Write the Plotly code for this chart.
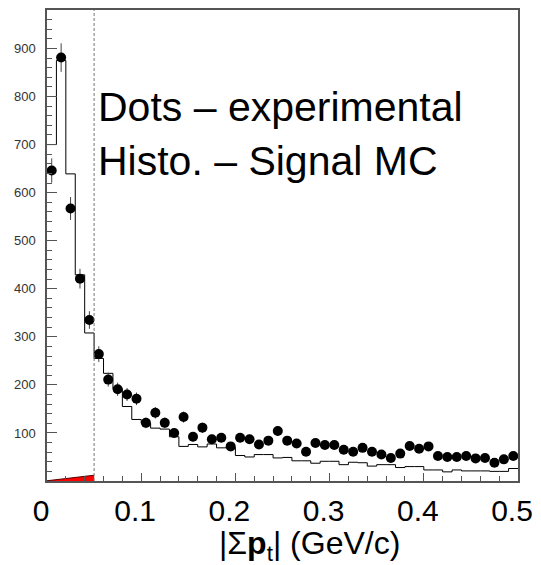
import numpy as np
import plotly.graph_objects as go

# ---- data ----
bin_width = 0.01
n_bins = 50
data_counts = [646, 881, 567, 421, 335, 264, 211, 191, 180, 171,
               121, 142, 121, 100, 133, 92, 111, 87, 90, 72,
               90, 87, 76, 84, 104, 84, 78, 61, 79, 75,
               75, 65, 61, 69, 61, 55, 48, 57, 73, 67,
               72, 52, 50, 50, 52, 47, 48, 38, 45, 52]
mc_counts = [700, 875, 639, 429, 308, 255, 224, 192, 155, 128,
             120, 110, 108, 92, 72, 76, 71, 77, 69, 70,
             53, 50, 55, 55, 48, 49, 42, 42, 37, 41,
             41, 34, 39, 38, 31, 34, 34, 28, 30, 30,
             23, 23, 19, 23, 21, 21, 21, 20, 20, 26]
bkg_x = [0.0, 0.01, 0.02, 0.03, 0.04, 0.05]
bkg_counts = [0.5, 3, 5.5, 8, 10, 12]
cut_value = 0.05
x_tick_vals = [0, 0.1, 0.2, 0.3, 0.4, 0.5]
x_tick_text = ["0", "0.1", "0.2", "0.3", "0.4", "0.5"]
y_tick_vals = [100, 200, 300, 400, 500, 600, 700, 800, 900]
legend_lines = ["Dots – experimental", "Histo. – Signal MC"]
x_title = "|Σ<b>p</b><sub>t</sub>| (GeV/c)"

edges = np.arange(n_bins + 1) * bin_width
centers = edges[:-1] + bin_width / 2
errs = np.sqrt(np.array(data_counts, dtype=float))

FONT = "Liberation Sans, Arial, sans-serif"

fig = go.Figure()

# background (red)
fig.add_trace(go.Scatter(x=bkg_x, y=bkg_counts, mode="lines", fill="tozeroy",
                         fillcolor="#ff0000", line=dict(color="#550000", width=1),
                         hoverinfo="skip", showlegend=False))

# MC histogram
fig.add_trace(go.Scatter(x=edges, y=list(mc_counts) + [mc_counts[-1]], mode="lines",
                         line=dict(color="black", width=1, shape="hv"),
                         showlegend=False))

# experimental points
fig.add_trace(go.Scatter(x=centers, y=data_counts, mode="markers",
                         marker=dict(color="black", size=10),
                         error_y=dict(type="data", array=errs, color="#444", thickness=1, width=0),
                         showlegend=False))

# cut line
fig.add_shape(type="line", xref="x", yref="paper", x0=cut_value, x1=cut_value, y0=0, y1=1,
              line=dict(color="#777", width=1, dash="3px,2px"))

for i, txt in enumerate(legend_lines):
    fig.add_annotation(text=txt, xref="paper", yref="paper", x=0.105, y=[0.793, 0.68][i],
                       xanchor="left", yanchor="middle", showarrow=False,
                       font=dict(family=FONT, size=41, color="black"))

fig.add_annotation(text=x_title, xref="paper", yref="paper", x=0.557, y=-0.137,
                   xanchor="center", yanchor="middle", showarrow=False,
                   font=dict(family=FONT, size=32, color="black"))

fig.update_layout(
    width=541, height=565,
    margin=dict(l=47, r=21, t=8, b=84),
    paper_bgcolor="white", plot_bgcolor="white",
    font=dict(family=FONT),
    showlegend=False,
)
fig.update_xaxes(range=[0, 0.5], showgrid=False, zeroline=False,
                 showline=True, linecolor="#555", linewidth=1.5, mirror=True,
                 ticks="inside", ticklen=8, tickcolor="#555", tickwidth=1,
                 tickvals=x_tick_vals, ticktext=x_tick_text,
                 tickfont=dict(family=FONT, size=30, color="black"),
                 ticklabelstandoff=2, ticklabelshift=-6,
                 minor=dict(dtick=0.02, ticks="inside", ticklen=5, tickcolor="#555"))
fig.update_yaxes(range=[0, 980], showgrid=False, zeroline=False,
                 showline=True, linecolor="#555", linewidth=1.5, mirror=True,
                 ticks="inside", ticklen=10, tickcolor="#555", tickwidth=1,
                 tickvals=y_tick_vals,
                 tickfont=dict(family=FONT, size=13, color="#333"),
                 ticklabelstandoff=7,
                 minor=dict(dtick=20, ticks="inside", ticklen=5, tickcolor="#555"))

fig.write_html("out.html")
